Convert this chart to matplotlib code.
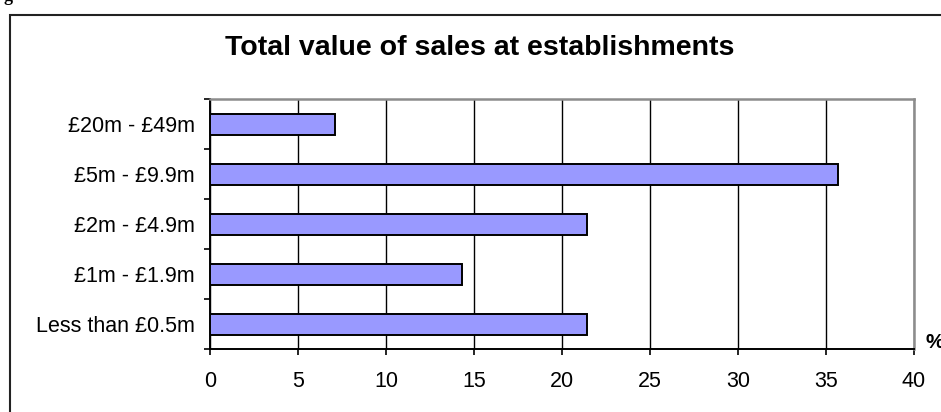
import matplotlib
matplotlib.use("Agg")
import matplotlib.pyplot as plt
import numpy as np
from matplotlib.patches import Rectangle

# Share of establishments by total value of sales (%)
categories = ["Less than £0.5m", "£1m - £1.9m", "£2m - £4.9m", "£5m - £9.9m", "£20m - £49m"]
shares = [21.4, 14.3, 21.4, 35.7, 7.1]
x_ticks = [0, 5, 10, 15, 20, 25, 30, 35, 40]

plt.rcParams["font.family"] = ["Liberation Sans", "DejaVu Sans"]

fig = plt.figure(figsize=(9.41, 4.12), dpi=100)
ax = fig.add_axes([210 / 941, 1 - 349 / 412, 704 / 941, 250 / 412])

pos = np.arange(len(categories))
ax.barh(pos, shares, height=0.42, color="#9999ff", edgecolor="black",
        linewidth=1.4, zorder=3)

ax.set_xlim(0, 40)
ax.set_ylim(-0.5, len(categories) - 0.5)
ax.set_xticks(x_ticks)
ax.set_xticklabels([str(t) for t in x_ticks], fontsize=15.5)
ax.set_yticks(pos)
ax.set_yticklabels(categories, fontsize=15.5)
ax.set_yticks(np.arange(-0.5, len(categories)), minor=True)

ax.tick_params(axis="y", which="major", length=0, pad=11)
ax.tick_params(axis="y", which="minor", length=4, width=1.2, direction="out")
ax.tick_params(axis="x", which="major", length=4, width=1.2, direction="out", pad=12)

ax.grid(axis="x", color="black", linewidth=1.0, zorder=0)
ax.set_axisbelow(True)

for side in ("left", "bottom"):
    ax.spines[side].set_color("black")
    ax.spines[side].set_linewidth(1.4)
for side in ("top", "right"):
    ax.spines[side].set_color("#8c8c8c")
    ax.spines[side].set_linewidth(1.8)

fig.text(480 / 941, 1 - 48 / 412, "Total value of sales at establishments",
         ha="center", va="center", fontsize=20.5, fontweight="bold")
fig.text(926 / 941, 1 - 343 / 412, "%", ha="left", va="center",
         fontsize=15, fontweight="bold")

# Heading fragment above the chart frame
fig.text(4 / 941, 1 - 1 / 412, "g", ha="left", va="baseline",
         fontsize=13, fontweight="bold", family="Liberation Serif")

# Outer chart frame
fig.patches.append(Rectangle((10 / 941, -0.1), 1.0, 1 - 15 / 412 + 0.1,
                             transform=fig.transFigure, fill=False,
                             edgecolor="#222222", linewidth=1.5))

fig.savefig("out.png", dpi=100)
